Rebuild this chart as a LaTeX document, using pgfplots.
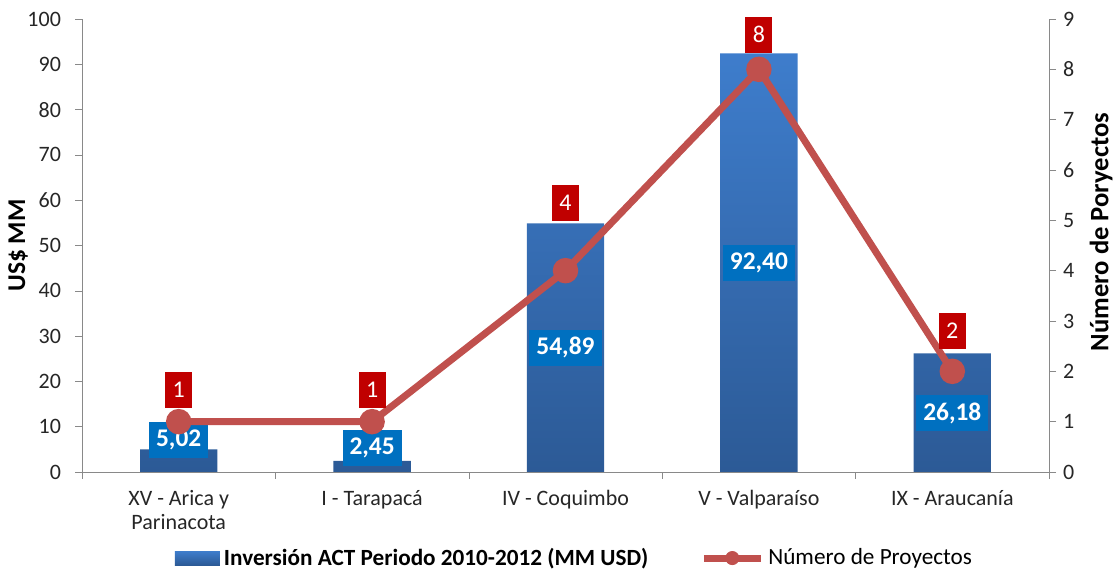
\documentclass[border=0pt]{standalone}
\usepackage{fontspec}
\setmainfont{Carlito}
\usepackage{pgfplots}
\pgfplotsset{compat=1.18}
\usepackage{pgfplotstable}

\definecolor{barTop}{HTML}{3E7DCC}
\definecolor{barBot}{HTML}{2C5A96}
\definecolor{lblBlue}{HTML}{0070C0}
\definecolor{lineRed}{HTML}{C0504D}
\definecolor{lblRed}{HTML}{C00000}
\definecolor{axGray}{HTML}{898989}
\definecolor{txt}{HTML}{262626}

% x, inversion, label y, label text, proyectos, label y (right axis), label text
\pgfplotstableread{
x inv invpos invlab proy proypos proylab
0 5.02  7.1  5,02  1 1.63 1
1 2.45  5.3  2,45  1 1.63 1
2 54.89 27.4 54,89 4 5.35 4
3 92.40 46.1 92,40 8 8.69 8
4 26.18 13.0 26,18 2 2.81 2
}\datatab

\begin{document}
\begin{tikzpicture}
\pgfplotsset{
  common/.style={
    width=483.5pt, height=226.5pt, scale only axis,
    xmin=-0.5, xmax=4.5,
    tick align=outside,
    axis line style={axGray},
    tick style={axGray},
    major tick length=3.5pt, minor tick length=3.5pt,
    ticklabel style={text=txt, font=\fontsize{11}{12}\selectfont},
    label style={text=black},
    /pgf/number format/assume math mode=true,
  }
}
\begin{axis}[common,
  axis y line*=left, axis x line*=bottom,
  ymin=0, ymax=100, ytick={0,10,...,100},
  xtick={0,...,4},
  xticklabels={{XV - Arica y\\Parinacota},{I - Tarapacá},{IV - Coquimbo},{V - Valparaíso},{IX - Araucanía}},
  xticklabel style={align=center, yshift=-2pt},
  major x tick style={opacity=0},
  minor xtick={-0.5,0.5,...,4.5},
  yticklabel style={xshift=-3.5pt},
  ylabel={US\$ MM},
  ylabel style={at={(axis description cs:-0.0662,0.5)}, anchor=center,
    font=\fontsize{12.8}{15}\selectfont\bfseries},
]
\addplot[ybar, bar width=0.4, draw=none, top color=barTop, bottom color=barBot]
  table[x=x, y=inv]{\datatab};
\addplot[draw=none, mark=none, nodes near coords, point meta=explicit symbolic,
  every node near coord/.style={fill=lblBlue, text=white, anchor=center,
    font=\fontsize{12.7}{14}\selectfont\bfseries, inner xsep=3.5pt, minimum height=18pt}]
  table[x=x, y=invpos, meta=invlab]{\datatab};
\end{axis}

\begin{axis}[common,
  axis y line*=right, axis x line=none,
  ymin=0, ymax=9, ytick={0,...,9},
  ylabel={Número de Poryectos},
  ylabel style={at={(axis description cs:1.0538,0.53)}, anchor=center,
    font=\fontsize{13.3}{15}\selectfont\bfseries},
  legend columns=2,
  legend style={draw=none, at={(0.5103,-0.19)}, anchor=center,
    font=\fontsize{11.6}{13}\selectfont,
    /tikz/every even column/.append style={column sep=24pt}},
]
\addlegendimage{legend image code/.code={
  \shade[draw=none, top color=barTop, bottom color=barBot] (2pt,-3.5pt) rectangle (24.5pt,3.5pt);}}
\addlegendentry{\textbf{Inversión ACT Periodo 2010-2012 (MM USD)}}
\addlegendimage{legend image code/.code={
  \draw[lineRed, line width=3.5pt] (0pt,0pt) -- (28.5pt,0pt);
  \fill[lineRed] (14.25pt,0pt) circle (3.3pt);}}
\addlegendentry{Número de Proyectos}
\addplot[lineRed, line width=3.5pt, mark=*, mark size=4.6pt, forget plot]
  table[x=x, y=proy]{\datatab};
\addplot[draw=none, mark=none, nodes near coords, point meta=explicit symbolic, forget plot,
  every node near coord/.style={fill=lblRed, text=white, anchor=center,
    font=\fontsize{12}{14}\selectfont, inner xsep=3.7pt, minimum height=18pt}]
  table[x=x, y=proypos, meta=proylab]{\datatab};
\coordinate (O) at (rel axis cs:0,0);
\end{axis}
\pgfresetboundingbox
\path ([shift={(-41pt,-49.5pt)}]O) rectangle ([shift={(516.5pt,236pt)}]O);
\end{tikzpicture}
\end{document}
